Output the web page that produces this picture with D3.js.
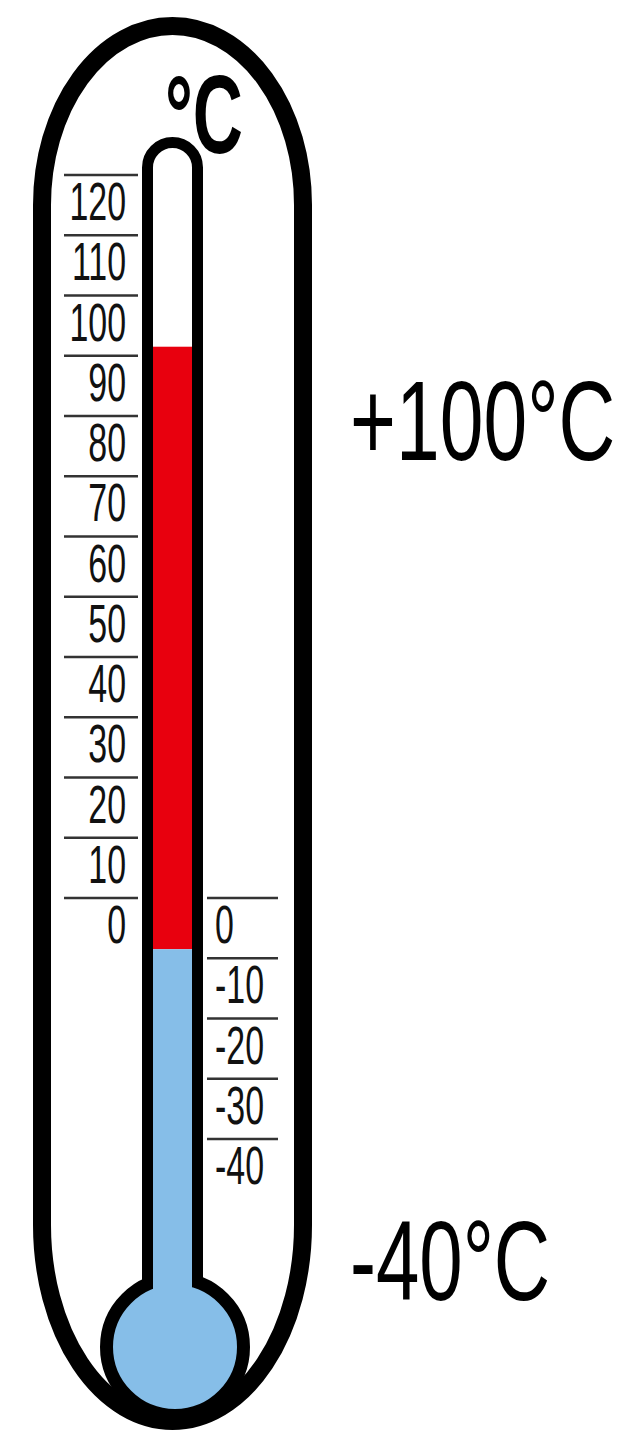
<!DOCTYPE html>
<html>
<head>
<meta charset="utf-8">
<script src="https://cdn.jsdelivr.net/npm/d3@7"></script>
<style>
  html, body { margin: 0; padding: 0; background: #fff; }
  svg { display: block; }
</style>
</head>
<body>
<svg id="chart" width="627" height="1437"></svg>
<script>
// ---- data ----
const leftTicks = [120, 110, 100, 90, 80, 70, 60, 50, 40, 30, 20, 10, 0];
const rightTicks = [0, -10, -20, -30, -40];
const mercuryTop = 91.5;      // top of red column
const mercurySplit = -8.5;    // red / blue boundary
const unitLabel = "°C";
const rangeLabels = ["+100°C", "-40°C"];

const RED = "#e8000e";
const BLUE = "#86bee8";
const FONT = "Liberation Sans, Arial, sans-serif";

const svg = d3.select("#chart");
const y = d3.scaleLinear().domain([0, 120]).range([898, 175]);

// outer capsule
const cx = 172.5, rx = 130.5;
svg.append("path")
  .attr("d", `M${cx - rx},205 A${rx},179 0 0 1 ${cx + rx},205 L${cx + rx},1225 A${rx},196 0 0 1 ${cx - rx},1225 Z`)
  .attr("fill", "#fff").attr("stroke", "#000").attr("stroke-width", 18);

// tube
const tl = 147.5, tr = 197.5, tr0 = 25, tcy = 167.5;
svg.append("path")
  .attr("d", `M${tl},1290 L${tl},${tcy} A${tr0},${tr0} 0 0 1 ${tr},${tcy} L${tr},1290`)
  .attr("fill", "#fff").attr("stroke", "#000").attr("stroke-width", 11);

// mercury columns
const ix0 = 153, ix1 = 192;
svg.append("rect")
  .attr("x", ix0).attr("width", ix1 - ix0)
  .attr("y", y(mercuryTop)).attr("height", y(mercurySplit) - y(mercuryTop))
  .attr("fill", RED);
svg.append("rect")
  .attr("x", ix0).attr("width", ix1 - ix0)
  .attr("y", y(mercurySplit)).attr("height", 1300 - y(mercurySplit))
  .attr("fill", BLUE);

// bulb
svg.append("circle")
  .attr("cx", 175).attr("cy", 1347).attr("r", 68.5)
  .attr("fill", BLUE).attr("stroke", "#000").attr("stroke-width", 13);
svg.append("rect")
  .attr("x", ix0).attr("width", ix1 - ix0)
  .attr("y", 1262).attr("height", 40)
  .attr("fill", BLUE);

// left scale
const gl = svg.append("g");
gl.selectAll("line").data(leftTicks).join("line")
  .attr("x1", 64).attr("x2", 138)
  .attr("y1", d => y(d)).attr("y2", d => y(d))
  .attr("stroke", "#333").attr("stroke-width", 2.5);
gl.selectAll("text").data(leftTicks).join("text")
  .attr("transform", d => `translate(126,${y(d) + 45}) scale(0.64,1)`)
  .attr("text-anchor", "end")
  .attr("font-family", FONT)
  .attr("font-size", 53)
  .attr("fill", "#111")
  .text(d => d);

// right scale
const gr = svg.append("g");
gr.selectAll("line").data(rightTicks).join("line")
  .attr("x1", 207).attr("x2", 278)
  .attr("y1", d => y(d)).attr("y2", d => y(d))
  .attr("stroke", "#333").attr("stroke-width", 2.5);
gr.selectAll("text").data(rightTicks).join("text")
  .attr("transform", d => `translate(215,${y(d) + 45}) scale(0.64,1)`)
  .attr("text-anchor", "start")
  .attr("font-family", FONT)
  .attr("font-size", 53)
  .attr("fill", "#111")
  .text(d => d);

// unit at top
svg.append("text")
  .attr("transform", "translate(165,153) scale(0.62,1)")
  .attr("font-family", FONT)
  .attr("font-weight", "bold")
  .attr("font-size", 112)
  .text(unitLabel);

// range annotations
const rangePos = [[350, 460, 0.69], [350, 1300, 0.684]];
svg.selectAll("text.range").data(rangeLabels).join("text")
  .attr("class", "range")
  .attr("transform", (d, i) => `translate(${rangePos[i][0]},${rangePos[i][1]}) scale(${rangePos[i][2]},1)`)
  .attr("font-family", FONT)
  .attr("font-size", 114)
  .attr("fill", "#000")
  .text(d => d);
</script>
</body>
</html>
